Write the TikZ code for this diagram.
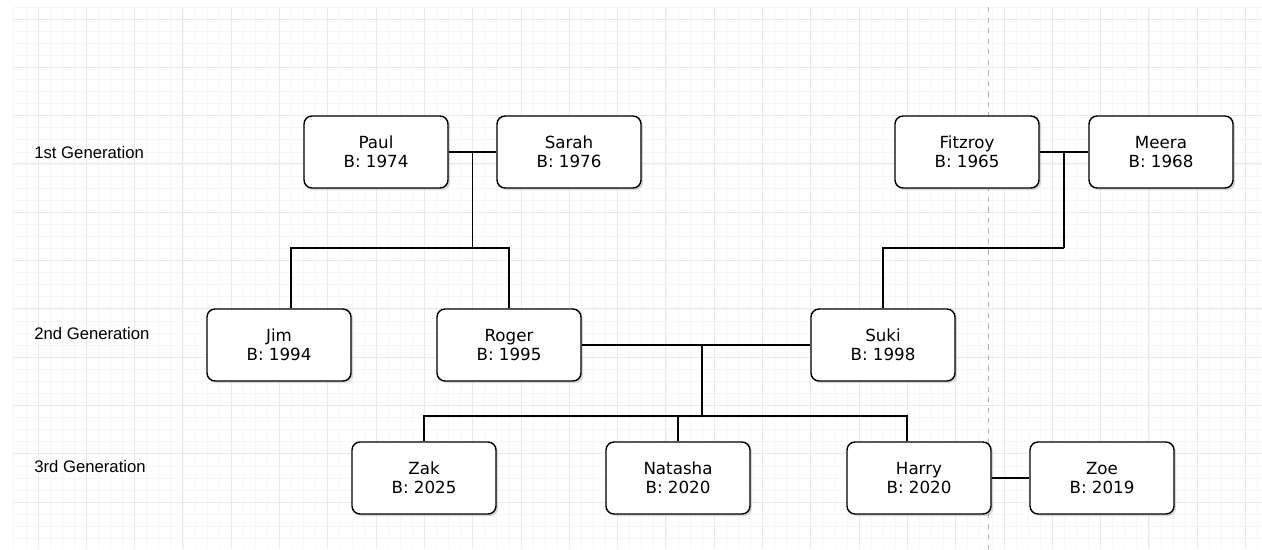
\documentclass[tikz,border=0pt]{standalone}
\usepackage{fontspec}
\usepackage{xcolor}
\newfontfamily\boxfont{DejaVu Sans}
\newfontfamily\labelfont{Liberation Sans}
\definecolor{gridminor}{rgb}{0.965,0.965,0.965}
\definecolor{gridmajor}{rgb}{0.915,0.915,0.915}
\definecolor{pagedash}{rgb}{0.7,0.7,0.7}
\usepackage{tikz}
\usetikzlibrary{calc, shadows}

\begin{document}
\begin{tikzpicture}[
    x=0.02cm, y=-0.02cm,
    person/.style={
        rectangle, draw, rounded corners=0.16cm,
        line width=0.8pt, fill=white,
        minimum width=2.88cm,
        minimum height=1.44cm,
        align=center, font=\boxfont\fontsize{9.5}{10.8}\selectfont,
        drop shadow={shadow xshift=1.2pt, shadow yshift=-1.2pt, opacity=0.3}
    },
    gen/.style={anchor=west, inner sep=0pt, font=\labelfont\fontsize{9.5}{11}\selectfont},
    link/.style={line width=0.6pt}
]
    \useasboundingbox (0,0) rectangle (1262,549);
    \fill[white] (0,0) rectangle (1262,549);

    % background grid
    \foreach \i in {0,...,103}
        \draw[gridminor, line width=0.4pt] ({13.8+12.075*\i},7) -- ({13.8+12.075*\i},549);
    \foreach \j in {0,...,44}
        \draw[gridminor, line width=0.4pt] (13,{7+12.075*\j}) -- (1262,{7+12.075*\j});
    \foreach \k in {0,...,25}
        \draw[gridmajor, line width=0.5pt] ({38+48.3*\k},7) -- ({38+48.3*\k},549);
    \foreach \k in {0,...,10}
        \draw[gridmajor, line width=0.5pt] (13,{19+48.3*\k}) -- (1262,{19+48.3*\k});
    \draw[pagedash, dashed, line width=0.5pt] (988,7) -- (988,549);

    \node[gen] (g1) at (34,153) {1st Generation};
    \node[gen] (g2) at (34,334) {2nd Generation};
    \node[gen] (g3) at (34,467) {3rd Generation};

    \node[person] (paul)    at (376,152)  {Paul\\B: 1974};
    \node[person] (sarah)   at (569,152)  {Sarah\\B: 1976};
    \node[person] (fitzroy) at (967,152)  {Fitzroy\\B: 1965};
    \node[person] (meera)   at (1161,152) {Meera\\B: 1968};

    \node[person] (jim)   at (279,345) {Jim\\B: 1994};
    \node[person] (roger) at (509,345) {Roger\\B: 1995};
    \node[person] (suki)  at (883,345) {Suki\\B: 1998};

    \node[person] (zak)     at (424,478)  {Zak\\B: 2025};
    \node[person] (natasha) at (678,478)  {Natasha\\B: 2020};
    \node[person] (harry)   at (919,478)  {Harry\\B: 2020};
    \node[person] (zoe)     at (1102,478) {Zoe\\B: 2019};

    \coordinate (ps) at ($(paul.east)!0.5!(sarah.west)$);
    \coordinate (psbar) at ($(ps)+(0,96)$);
    \coordinate (jimtop) at ($(jim.north)+(12,0)$);
    \coordinate (fm) at ($(fitzroy.east)!0.5!(meera.west)$);
    \coordinate (fmbar) at ($(fm)+(0,96)$);
    \coordinate (rs) at ($(roger.east)!0.5!(suki.west)+(6,0)$);
    \coordinate (rsbar) at ($(rs)+(0,71)$);
    \coordinate (harrytop) at ($(harry.north)+(-12,0)$);

    \draw[link] (paul) -- (sarah);
    \draw[link] (ps) -- (psbar);
    \draw[link] (jimtop) |- (psbar);
    \draw[link] (roger.north) |- (psbar);

    \draw[link] (fitzroy) -- (meera);
    \draw[link] (fm) -- (fmbar);
    \draw[link] (suki.north) |- (fmbar);

    \draw[link] (roger) -- (suki);
    \draw[link] (rs) -- (rsbar);
    \draw[link] (zak.north) |- (rsbar);
    \draw[link] (natasha.north) |- (rsbar);
    \draw[link] (harrytop) |- (rsbar);

    \draw[link] (harry) -- (zoe);
\end{tikzpicture}
\end{document}
